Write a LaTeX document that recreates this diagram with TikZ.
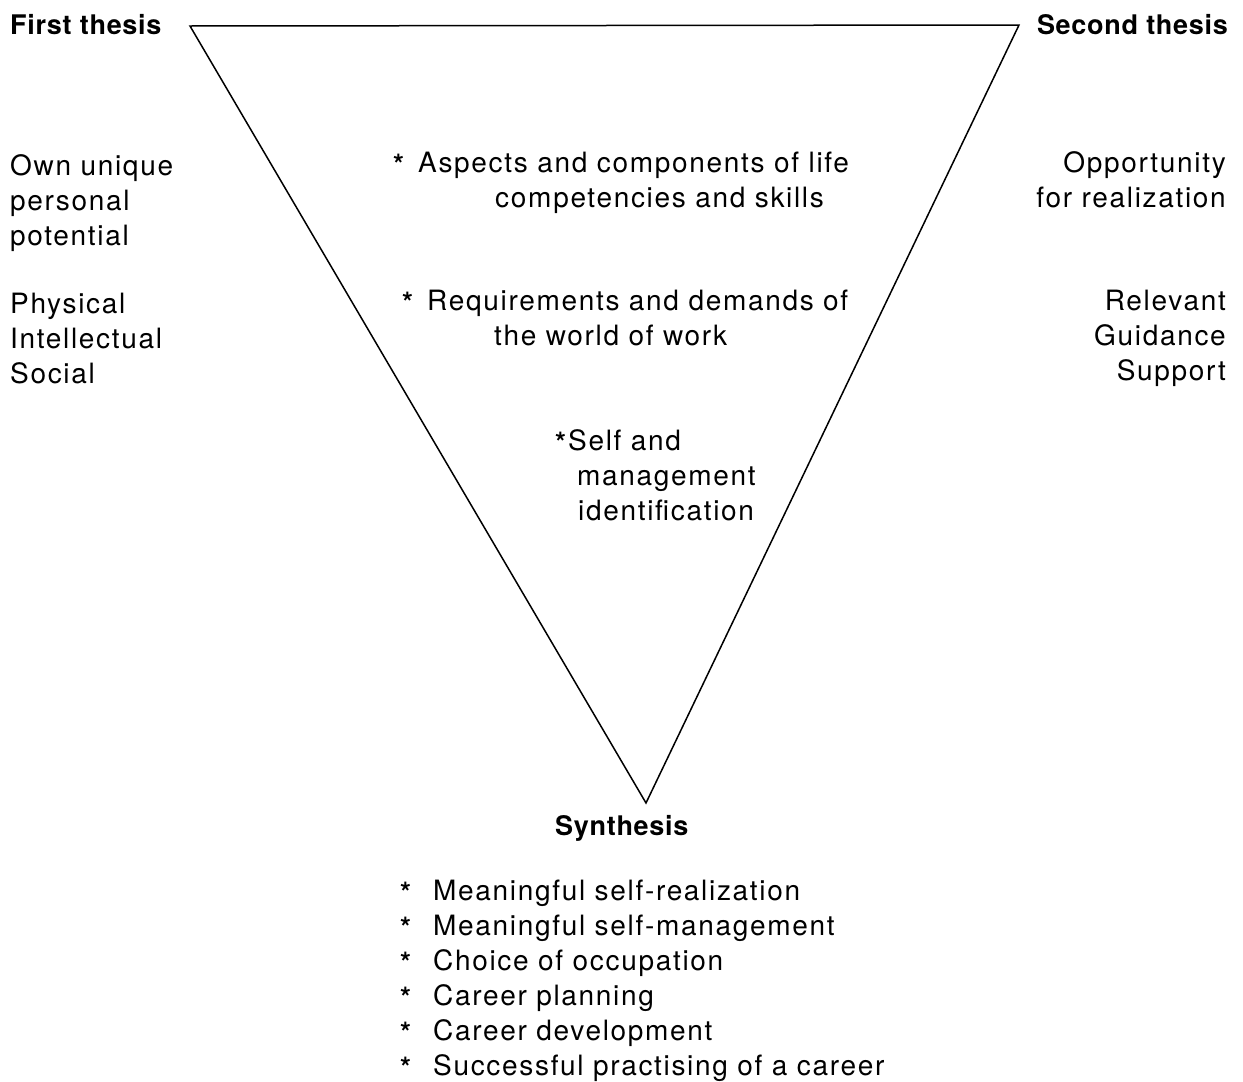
\documentclass[tikz,border=0pt]{standalone}
\usepackage{fontspec}
\setmainfont[LetterSpace=6]{TeX Gyre Heros}
\newfontfamily\hdfont[LetterSpace=2.6]{TeX Gyre Heros}
\begin{document}
\begin{tikzpicture}[x=1pt,y=-1pt,
  txt/.style={font=\fontsize{28}{35}\selectfont, inner sep=0pt},
  hd/.style={font=\fontsize{27}{35}\hdfont\bfseries, inner sep=0pt},
  lft/.style={txt, anchor=base west},
  rgt/.style={txt, anchor=base east},
  star/.style={font=\fontsize{28}{35}\selectfont\bfseries, inner sep=0pt, anchor=base west},
  tri/.style={line width=1.5pt, line join=miter}]
\useasboundingbox (0,0) rectangle (1243,1082);
% triangle
\coordinate (tl) at (190,26);
\coordinate (tr) at (1019,25);
\coordinate (bt) at (646,803);
\draw[tri] (tl) -- (tr) -- (bt) -- cycle;
% headings
\node[hd, anchor=base west] (first) at (10,34) {First thesis};
\node[hd, anchor=base east] (second) at (1228,34) {Second thesis};
\node[hd, anchor=base west] (synth) at (555,835) {Synthesis};
% left column
\node[lft] (l1) at (10,175) {Own unique};
\node[lft] (l2) at (10,210) {personal};
\node[lft] (l3) at (10,245) {potential};
\node[lft] (l4) at (10,313) {Physical};
\node[lft] (l5) at (10,348) {Intellectual};
\node[lft] (l6) at (10,383) {Social};
% right column
\node[rgt] (r1) at (1226,172) {Opportunity};
\node[rgt] (r2) at (1226,207) {for realization};
\node[rgt] (r3) at (1226,310) {Relevant};
\node[rgt] (r4) at (1226,345) {Guidance};
\node[rgt] (r5) at (1226,380) {Support};
% centre
\node[star] (c1s) at (393,174) {*};
\node[lft] (c1) at (418,172) {Aspects and components of life};
\node[lft] (c2) at (495,207) {competencies and skills};
\node[star] (c3s) at (402,312) {*};
\node[lft] (c3) at (427,310) {Requirements and demands of};
\node[lft] (c4) at (494,345) {the world of work};
\node[star] (c5s) at (555,452) {*};
\node[lft] (c5) at (568,450) {Self and};
\node[lft] (c6) at (577,485) {management};
\node[lft] (c7) at (578,520) {identification};
% synthesis list
\foreach \t [count=\i] in {Meaningful self-realization, Meaningful self-management, Choice of occupation, Career planning, Career development, Successful practising of a career}{
  \node[star] (s\i) at (400,867+35*\i) {*};
  \node[lft] (t\i) at (433,865+35*\i) {\t};
}
\end{tikzpicture}
\end{document}
